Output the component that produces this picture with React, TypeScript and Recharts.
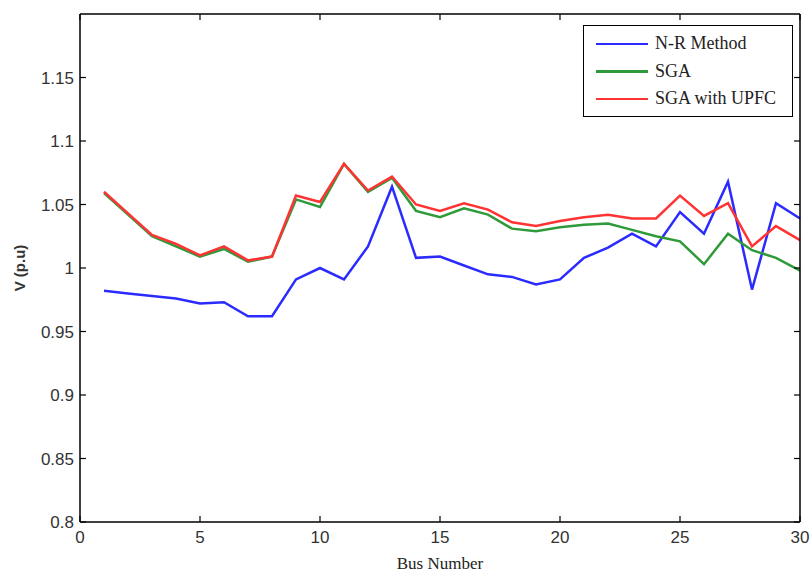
import { LineChart, Line, XAxis, YAxis, Legend } from "recharts";

const buses = [1, 2, 3, 4, 5, 6, 7, 8, 9, 10, 11, 12, 13, 14, 15, 16, 17, 18, 19, 20, 21, 22, 23, 24, 25, 26, 27, 28, 29, 30];
const nrMethod = [0.982, 0.98, 0.978, 0.976, 0.972, 0.973, 0.962, 0.962, 0.991, 1.0, 0.991, 1.017, 1.064, 1.008, 1.009, 1.002, 0.995, 0.993, 0.987, 0.991, 1.008, 1.016, 1.027, 1.017, 1.044, 1.027, 1.068, 0.983, 1.051, 1.039];
const sga = [1.059, 1.042, 1.025, 1.017, 1.009, 1.015, 1.005, 1.009, 1.054, 1.048, 1.082, 1.06, 1.071, 1.045, 1.04, 1.047, 1.042, 1.031, 1.029, 1.032, 1.034, 1.035, 1.03, 1.025, 1.021, 1.003, 1.027, 1.014, 1.008, 0.998];
const sgaUpfc = [1.06, 1.043, 1.026, 1.019, 1.01, 1.017, 1.006, 1.009, 1.057, 1.052, 1.082, 1.061, 1.072, 1.05, 1.045, 1.051, 1.046, 1.036, 1.033, 1.037, 1.04, 1.042, 1.039, 1.039, 1.057, 1.041, 1.051, 1.017, 1.033, 1.022];
const xTicks = [0, 5, 10, 15, 20, 25, 30];
const yTicks = [0.8, 0.85, 0.9, 0.95, 1, 1.05, 1.1, 1.15];

const data = buses.map((bus, i) => ({
  bus,
  nr: nrMethod[i],
  sga: sga[i],
  upfc: sgaUpfc[i],
}));

const tickFont = "'Liberation Sans', Arial, sans-serif";
const TICK_LEN = 6;

function BottomTick(props: any) {
  const { x, y, payload } = props;
  const axisY = y - 9;
  return (
    <g>
      <line x1={x} y1={axisY} x2={x} y2={axisY - TICK_LEN} stroke="#000" strokeWidth={1.2} />
      <text x={x} y={y} dy="0.71em" textAnchor="middle" fontFamily={tickFont} fontSize={17} fill="#333">
        {payload.value}
      </text>
    </g>
  );
}

function LeftTick(props: any) {
  const { x, y, payload } = props;
  const axisX = x + 6;
  return (
    <g>
      <line x1={axisX} y1={y} x2={axisX + TICK_LEN} y2={y} stroke="#000" strokeWidth={1.2} />
      <text x={x} y={y} dy="0.355em" textAnchor="end" fontFamily={tickFont} fontSize={17} fill="#333">
        {payload.value}
      </text>
    </g>
  );
}

function TopTick(props: any) {
  const { x, y } = props;
  return <line x1={x} y1={y} x2={x} y2={y + TICK_LEN} stroke="#000" strokeWidth={1.2} />;
}

function RightTick(props: any) {
  const { x, y } = props;
  return <line x1={x} y1={y} x2={x - TICK_LEN} y2={y} stroke="#000" strokeWidth={1.2} />;
}

function LegendBox(props: any) {
  const { payload } = props;
  return (
    <div
      style={{
        width: 210,
        height: 92,
        boxSizing: "border-box",
        border: "1.5px solid #000",
        background: "#fff",
        paddingTop: 4,
        fontFamily: "'Liberation Serif', 'Times New Roman', serif",
        fontSize: 18,
        color: "#222",
      }}
    >
      {(payload || [])
        .filter((entry: any) => entry.type !== "none")
        .map((entry: any) => (
          <div key={entry.value} style={{ display: "flex", alignItems: "center", height: 27.5 }}>
            <span style={{ display: "inline-block", width: 52, height: 2.5, background: entry.color, marginLeft: 12, marginRight: 7 }} />
            <span>{entry.value}</span>
          </div>
        ))}
    </div>
  );
}

export default function App() {
  return (
    <div style={{ position: "absolute", left: 0, top: 0, background: "#fff" }}>
      <LineChart width={811} height={574} data={data} margin={{ top: 13, right: 10, bottom: 12, left: 10 }}>
        <XAxis
          dataKey="bus"
          type="number"
          domain={[0, 30]}
          ticks={xTicks}
          height={40}
          tickSize={0}
          tickMargin={9}
          tick={<BottomTick />}
          axisLine={{ stroke: "#000", strokeWidth: 1.5 }}
          label={{ value: "Bus Number", position: "bottom", offset: -5, fontFamily: "'Liberation Serif', serif", fontSize: 17, fill: "#222" }}
        />
        <XAxis
          xAxisId="top"
          dataKey="bus"
          orientation="top"
          type="number"
          domain={[0, 30]}
          allowDataOverflow
          ticks={xTicks}
          height={1}
          tickSize={0}
          tickMargin={0}
          tick={<TopTick />}
          axisLine={{ stroke: "#000", strokeWidth: 1.5 }}
        />
        <YAxis
          type="number"
          domain={[0.8, 1.2]}
          ticks={yTicks}
          width={70}
          tickSize={0}
          tickMargin={6}
          tick={<LeftTick />}
          axisLine={{ stroke: "#000", strokeWidth: 1.5 }}
          label={{
            content: () => (
              <text
                transform="translate(25,268) rotate(-90)"
                textAnchor="middle"
                fontFamily={tickFont}
                fontWeight="bold"
                fontSize={15}
                fill="#333"
              >
                V (p.u)
              </text>
            ),
          }}
        />
        <YAxis
          yAxisId="right"
          orientation="right"
          type="number"
          domain={[0.8, 1.2]}
          allowDataOverflow
          ticks={yTicks}
          width={1}
          tickSize={0}
          tickMargin={0}
          tick={<RightTick />}
          axisLine={{ stroke: "#000", strokeWidth: 1.5 }}
        />
        <Legend
          layout="vertical"
          align="center"
          verticalAlign="middle"
          wrapperStyle={{ left: 583, top: 25, width: 210, height: 92 }}
          content={<LegendBox />}
        />
        <Line type="linear" dataKey="nr" name="N-R Method" stroke="#2b2bff" strokeWidth={2.5} dot={false} isAnimationActive={false} />
        <Line type="linear" dataKey="sga" name="SGA" stroke="#2f9a3a" strokeWidth={2.5} dot={false} isAnimationActive={false} />
        <Line type="linear" dataKey="upfc" name="SGA with UPFC" stroke="#ff3333" strokeWidth={2.5} dot={false} isAnimationActive={false} />
        <Line
          type="linear"
          dataKey="upfc"
          xAxisId="top"
          yAxisId="right"
          stroke="none"
          strokeWidth={0}
          legendType="none"
          dot={false}
          activeDot={false}
          isAnimationActive={false}
        />
      </LineChart>
    </div>
  );
}
